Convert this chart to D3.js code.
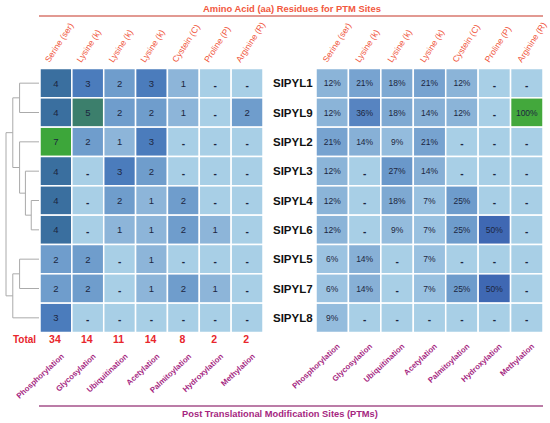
<!DOCTYPE html>
<html><head><meta charset="utf-8">
<script src="https://cdn.jsdelivr.net/npm/d3@7"></script>
<style>
html,body{margin:0;padding:0;background:#fff;}
svg{display:block;font-family:"Liberation Sans",Arial,sans-serif;}
</style></head>
<body>
<svg id="c" width="550" height="423"></svg>
<script>
// ---------------- data ----------------
const genes = ["SIPYL1","SIPYL9","SIPYL2","SIPYL3","SIPYL4","SIPYL6","SIPYL5","SIPYL7","SIPYL8"];
const aminoAcids = ["Serine (ser)","Lysine (k)","Lysine (k)","Lysine (k)","Cystein (C)","Proline (P)","Arginine (R)"];
const ptms = ["Phosphorylation","Glycosylation","Ubiquitination","Acetylation","Palmitoylation","Hydroxylation","Methylation"];
const counts = [
  [4,3,2,3,1,0,0],
  [4,5,2,2,1,0,2],
  [7,2,1,3,0,0,0],
  [4,0,3,2,0,0,0],
  [4,0,2,1,2,0,0],
  [4,0,1,1,2,1,0],
  [2,2,0,1,0,0,0],
  [2,2,0,1,2,1,0],
  [3,0,0,0,0,0,0]
];
const percents = [
  [12,21,18,21,12,0,0],
  [12,36,18,14,12,0,100],
  [21,14,9,21,0,0,0],
  [12,0,27,14,0,0,0],
  [12,0,18,7,25,0,0],
  [12,0,9,7,25,50,0],
  [6,14,0,7,0,0,0],
  [6,14,0,7,25,50,0],
  [9,0,0,0,0,0,0]
];
const totals = [34,14,11,14,8,2,2];
// dendrogram (clustering of rows), heights in arbitrary distance units
const dendro = {h:34, children:[
  {h:27, children:[
    {h:20, children:[{leaf:"SIPYL1"},{leaf:"SIPYL9"}]},
    {h:20, children:[{leaf:"SIPYL2"},
      {h:14, children:[{leaf:"SIPYL3"},
        {h:8, children:[{leaf:"SIPYL4"},{leaf:"SIPYL6"}]}]}]}
  ]},
  {h:27, children:[
    {h:20, children:[{leaf:"SIPYL5"},{leaf:"SIPYL7"}]},
    {leaf:"SIPYL8"}
  ]}
]};
const titleTop = "Amino Acid (aa) Residues for PTM Sites";
const titleBottom = "Post Translational Modification Sites (PTMs)";

// ---------------- drawing ----------------
const svg = d3.select("#c");
const cols = d3.range(7);
const y = d3.scaleBand().domain(genes).range([68.5, 332.5]);
const xL = d3.scaleBand().domain(cols).range([40, 263]);
const xR = d3.scaleBand().domain(cols).range([316, 543]);

const colL = d3.scaleLinear().domain([0,1,2,3,4,5,7])
  .range(["#a8cfe6","#8db5d9","#6f9dcc","#4b7cbc","#3a6f9f","#3c7f6c","#3da63a"]);
const colR = d3.scaleLinear().domain([0,6,12,25,36,50,100])
  .range(["#a8cfe6","#9cc3e1","#8bb4d8","#6e9ccc","#5784c1","#3f68b3","#43a83c"]);

function heat(x, mat, cscale, fmt, fs){
  const g = svg.append("g");
  mat.forEach((row, ri) => {
    row.forEach((v, ci) => {
      g.append("rect")
        .attr("x", x(ci)).attr("y", y(genes[ri]))
        .attr("width", x.bandwidth()).attr("height", y.bandwidth())
        .attr("fill", cscale(v)).attr("stroke", "#fff").attr("stroke-width", 1.5);
      g.append("text")
        .attr("x", x(ci) + x.bandwidth()/2)
        .attr("y", y(genes[ri]) + y.bandwidth()/2 + (v === 0 ? 2 : 0))
        .attr("text-anchor", "middle").attr("dominant-baseline", "central")
        .attr("font-size", v === 0 ? 10 : fs)
        .attr("font-weight", v === 0 ? "bold" : "normal")
        .attr("fill", "#1c2640")
        .text(v === 0 ? "-" : fmt(v));
    });
  });
}
heat(xL, counts, colL, v => v, 9.5);
heat(xR, percents, colR, v => v + "%", 8.5);

// row labels
svg.append("g").selectAll("text").data(genes).join("text")
  .attr("x", 273).attr("y", d => y(d) + y.bandwidth()/2)
  .attr("dominant-baseline", "central")
  .attr("font-size", 11.5).attr("font-weight", "bold").attr("fill", "#111")
  .text(d => d);

// header labels (amino acids)
function headers(x, dx){
  svg.append("g").selectAll("text").data(aminoAcids).join("text")
    .attr("transform", (d,i) => `translate(${x(i) + x.bandwidth()/2 + dx},63) rotate(-57)`)
    .attr("font-size", 8.6).attr("fill", "#f0553c")
    .text(d => d);
}
headers(xL, -6.5);
headers(xR, -5);

// bottom labels (PTMs)
function bottoms(x, yy, dx){
  svg.append("g").selectAll("text").data(ptms).join("text")
    .attr("transform", (d,i) => `translate(${x(i) + x.bandwidth()/2 + dx},${yy}) rotate(-43)`)
    .attr("text-anchor", "end")
    .attr("font-size", 7.8).attr("font-weight", "bold").attr("fill", "#a5267f")
    .text(d => d);
}
bottoms(xL, 357, 8.5);
bottoms(xR, 347, 8);

// totals
svg.append("text").attr("x", 13).attr("y", 343)
  .attr("font-size", 10).attr("font-weight", "bold").attr("fill", "#e8262c").text("Total");
svg.append("g").selectAll("text").data(totals).join("text")
  .attr("x", (d,i) => xL(i) + xL.bandwidth()/2 - 1).attr("y", 343)
  .attr("text-anchor", "middle")
  .attr("font-size", 10.5).attr("font-weight", "bold").attr("fill", "#e8262c")
  .text(d => d);

// titles and rules
svg.append("line").attr("x1", 39).attr("x2", 543).attr("y1", 16).attr("y2", 16)
  .attr("stroke", "#d9776e").attr("stroke-width", 1.5);
svg.append("text").attr("x", 292).attr("y", 11.5).attr("text-anchor", "middle")
  .attr("font-size", 9.4).attr("font-weight", "bold").attr("fill", "#f2583e").text(titleTop);
svg.append("line").attr("x1", 39).attr("x2", 543).attr("y1", 406).attr("y2", 406)
  .attr("stroke", "#a4508a").attr("stroke-width", 1.5);
svg.append("text").attr("x", 280).attr("y", 417).attr("text-anchor", "middle")
  .attr("font-size", 9.3).attr("font-weight", "bold").attr("fill", "#a5267f").text(titleBottom);

// dendrogram
const root = d3.hierarchy(dendro);
const xD = d3.scaleLinear().domain([0, 34]).range([39, 6]);
root.eachAfter(n => {
  if (!n.children) { n.py = y(n.data.leaf) + y.bandwidth()/2; n.px = xD(0); }
  else {
    n.px = xD(n.data.h);
    n.py = d3.mean(n.children, c => c.py);
  }
});
const gD = svg.append("g").attr("stroke", "#aaaaaa").attr("stroke-width", 1).attr("fill", "none");
root.each(n => {
  if (!n.children) return;
  const ys = n.children.map(c => c.py);
  gD.append("line").attr("x1", n.px).attr("x2", n.px).attr("y1", d3.min(ys)).attr("y2", d3.max(ys));
  n.children.forEach(c => {
    gD.append("line").attr("x1", n.px).attr("x2", c.px).attr("y1", c.py).attr("y2", c.py);
  });
});
</script>
</body></html>
